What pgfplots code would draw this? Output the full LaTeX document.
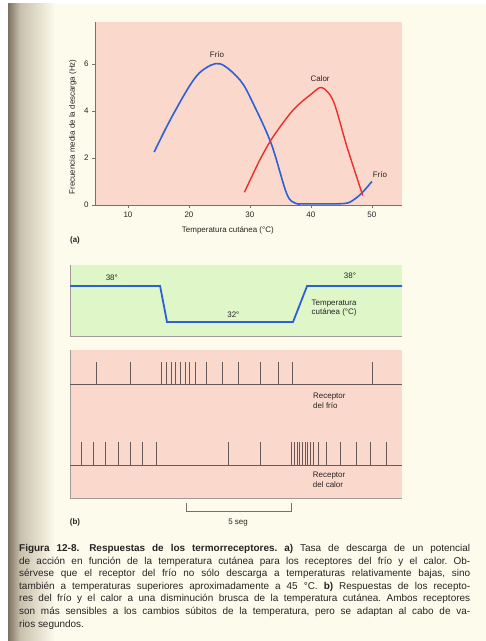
\documentclass[border=0pt]{standalone}
\usepackage{fontspec}
\setmainfont{Liberation Sans}
\usepackage{pgfplots}
\pgfplotsset{compat=1.18}
\usepackage{pgfplotstable}

\definecolor{cream}{RGB}{253,251,236}
\definecolor{pinkbg}{RGB}{250,216,204}
\definecolor{greenbg}{RGB}{222,246,200}
\definecolor{shadowdark}{RGB}{125,114,98}
\definecolor{shadowmid}{RGB}{200,192,172}
\definecolor{axisgray}{RGB}{120,112,110}
\definecolor{textgray}{RGB}{40,36,36}
\definecolor{coldblue}{RGB}{45,95,215}
\definecolor{hotred}{RGB}{240,45,45}
\definecolor{spikecol}{RGB}{105,88,88}

% spike trains: time (s), baseline, height (px units of the panel)
\pgfplotstableread{
t b h
1.26 113.7 22.7
2.86 113.7 22.7
4.37 113.7 22.7
4.60 113.7 22.7
4.81 113.7 22.7
5.02 113.7 22.7
5.24 113.7 22.7
5.48 113.7 22.7
5.71 113.7 22.7
5.95 113.7 22.7
6.51 113.7 22.7
7.25 113.7 22.7
8.01 113.7 22.7
9.05 113.7 22.7
9.92 113.7 22.7
10.59 113.7 22.7
14.41 113.7 22.7
}\coldspikes
\pgfplotstableread{
t b h
0.56 32 24.3
1.14 32 24.3
1.71 32 24.3
2.30 32 24.3
2.89 32 24.3
3.46 32 24.3
4.10 32 24.3
7.54 32 24.3
9.08 32 24.3
10.56 32 24.3
10.68 32 24.3
10.81 32 24.3
10.94 32 24.3
11.06 32 24.3
11.19 32 24.3
11.32 32 24.3
11.44 32 24.3
11.59 32 24.3
11.82 32 24.3
12.19 32 24.3
12.89 32 24.3
13.62 32 24.3
14.32 32 24.3
15.05 32 24.3
}\hotspikes

\newcommand\lblfont{\fontsize{8}{9.5}\selectfont}
\newcommand\capline[2]{\node[anchor=base west, inner sep=0pt, text=textgray,
  font=\fontsize{10}{12}\selectfont] at (19,#1) {\frenchspacing\makebox[451bp][s]{#2}};}

\begin{document}
\begin{tikzpicture}[x=1bp, y=1bp]
% page
\fill[white] (0,0) rectangle (486,641);
\fill[cream] (8,0) rectangle (486,637);
\shade[left color=shadowdark, right color=shadowmid] (8,0) rectangle (20,637);
\shade[left color=shadowmid, right color=cream] (20,0) rectangle (55,637);

% (a) discharge rate vs skin temperature
\begin{axis}[
  at={(95bp,436bp)}, anchor=south west, scale only axis,
  width=306.8bp, height=183.3bp,
  xmin=4.6, xmax=54.9, ymin=0, ymax=7.79,
  axis x line*=bottom, axis y line*=left,
  axis line style={-, draw=axisgray},
  axis background/.style={fill=pinkbg},
  xtick={10,20,30,40,50}, ytick={0,2,4,6},
  tick align=outside, major tick length=3bp,
  tick style={draw=axisgray},
  tick label style={font=\lblfont, text=textgray},
  /pgf/number format/assume math mode=true,
  xlabel={Temperatura cutánea (°C)},
  ylabel={Frecuencia media de la descarga (Hz)},
  every axis x label/.style={at={(axis description cs:0.433,-0.136)}, anchor=center, font=\lblfont, text=textgray},
  every axis y label/.style={at={(axis description cs:-0.072,0.426)}, rotate=90, anchor=center, font=\lblfont, text=textgray},
  clip=false,
]
\addplot[coldblue, line width=1.6bp, smooth, tension=0.55] coordinates {
  (14.3,2.25) (16.9,3.6) (20.2,5.1) (22.3,5.74) (25.1,6.0) (28.4,5.3)
  (30.5,4.33) (33.5,2.6) (36.0,0.5) (37.4,0.08) (39,0.05) (45.3,0.06)
  (47,0.22) (48.5,0.55) (50,1.0)
};
\addplot[hotred, line width=1.4bp, smooth, tension=0.5] coordinates {
  (29.1,0.54) (31.6,1.9) (33.8,2.9) (37.1,4.04) (40,4.7) (41.8,4.99)
  (43.7,4.4) (45.9,2.48) (48.5,0.4)
};
\node[font=\lblfont, text=textgray] at (axis cs:24.6,6.38) {Frío};
\node[font=\lblfont, text=textgray] at (axis cs:41.5,5.38) {Calor};
\node[font=\lblfont, text=textgray] at (axis cs:51.3,1.3) {Frío};
\end{axis}
\node[font=\lblfont\bfseries, text=textgray] at (75,401) {(a)};

% (b) skin temperature step
\begin{axis}[
  at={(70bp,305bp)}, anchor=south west, scale only axis,
  width=332bp, height=71bp,
  xmin=0, xmax=15.81, ymin=29.67, ymax=41.5,
  axis x line*=bottom, axis y line*=left,
  axis line style={-, draw=axisgray!70},
  axis background/.style={fill=greenbg},
  xtick=\empty, ytick=\empty, clip=false,
]
\addplot[coldblue, line width=1.8bp] coordinates {
  (0,38) (4.29,38) (4.62,32) (10.62,32) (11.29,38) (15.81,38)
};
\node[font=\lblfont, text=textgray] at (axis cs:1.99,39.35) {38°};
\node[font=\lblfont, text=textgray] at (axis cs:13.33,39.7) {38°};
\node[font=\lblfont, text=textgray] at (axis cs:7.78,33.2) {32°};
\node[font=\lblfont, text=textgray, anchor=west, align=left, inner sep=0pt] at (axis cs:11.5,34.28) {Temperatura\\cutánea (°C)};
\end{axis}

% (b) receptor spike trains
\begin{axis}[
  at={(70bp,143bp)}, anchor=south west, scale only axis,
  width=332bp, height=148bp,
  xmin=0, xmax=15.81, ymin=0, ymax=148,
  axis x line*=bottom, axis y line*=left,
  axis line style={-, draw=axisgray!70},
  axis background/.style={fill=pinkbg},
  xtick=\empty, ytick=\empty, clip=false,
]
\addplot[spikecol, line width=1bp] coordinates {(0,113.7) (15.81,113.7)};
\addplot[spikecol, line width=1bp] coordinates {(0,32) (15.81,32)};
\addplot[spikecol, line width=0.9bp, mark=none,
  quiver={u=0, v=\thisrow{h}}] table[x=t, y=b] {\coldspikes};
\addplot[spikecol, line width=0.9bp, mark=none,
  quiver={u=0, v=\thisrow{h}}] table[x=t, y=b] {\hotspikes};
\addplot[axisgray, line width=0.8bp] coordinates {(5.52,-5) (5.52,-13) (10.52,-13) (10.52,-5)};
\node[font=\lblfont, text=textgray] at (axis cs:8.0,-25) {5 seg};
\node[font=\lblfont, text=textgray, anchor=west, align=left, inner sep=0pt] at (axis cs:11.57,97) {Receptor\\del frío};
\node[font=\lblfont, text=textgray, anchor=west, align=left, inner sep=0pt] at (axis cs:11.56,18) {Receptor\\del calor};
\end{axis}
\node[font=\lblfont\bfseries, text=textgray] at (75,119) {(b)};

% caption
\capline{89.2}{\textbf{Figura 12-8.}\quad\textbf{Respuestas de los termorreceptores. a)} Tasa de descarga de un potencial}
\capline{76.8}{de acción en función de la temperatura cutánea para los receptores del frío y el calor. Ob-}
\capline{64.2}{sérvese que el receptor del frío no sólo descarga a temperaturas relativamente bajas, sino}
\capline{51.8}{también a temperaturas superiores aproximadamente a 45 °C. \textbf{b)} Respuestas de los recepto-}
\capline{39.2}{res del frío y el calor a una disminución brusca de la temperatura cutánea. Ambos receptores}
\capline{26.2}{son más sensibles a los cambios súbitos de la temperatura, pero se adaptan al cabo de va-}
\node[anchor=base west, inner sep=0pt, text=textgray, font=\fontsize{10}{12}\selectfont] at (19,13.5) {rios segundos.};
\end{tikzpicture}
\end{document}
